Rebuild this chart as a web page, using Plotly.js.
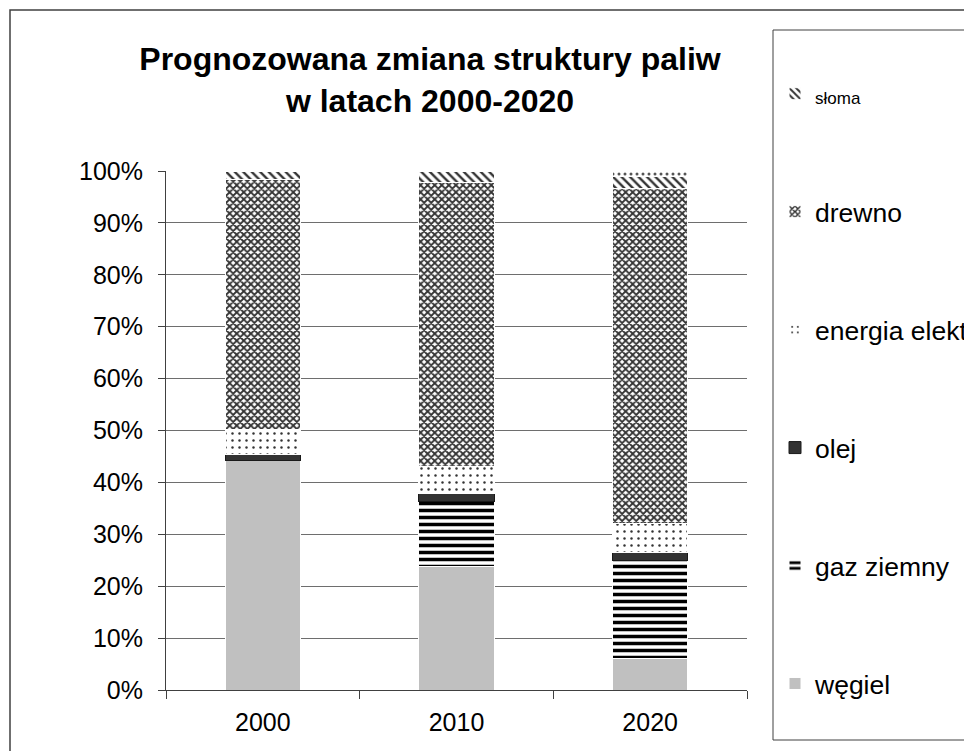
<!DOCTYPE html>
<html>
<head>
<meta charset="utf-8">
<script src="https://cdn.plot.ly/plotly-3.0.1.min.js"></script>
<style>
html,body{margin:0;padding:0;background:#fff;overflow:hidden;}
#chart{width:964px;height:751px;}
</style>
</head>
<body>
<div id="chart"></div>
<script>
// ---- data (percent shares) ----
var years = ['2000', '2010', '2020'];
var wegiel  = [44.3, 23.8, 6.1];
var gaz     = [0.0, 12.6, 18.9];
var olej    = [1.1, 1.4, 1.5];
var energia = [4.7, 5.2, 5.5];
var drewno  = [48.2, 54.7, 64.7];
var sloma   = [1.7, 2.3, 2.2];
var inne    = [0.0, 0.0, 1.1];

var seriesNames = ['węgiel', 'gaz ziemny', 'olej', 'energia elektryczna', 'drewno',
  '<span style="font-size:17px">słoma</span>', 'inne'];

// ---- layout geometry (px) ----
var W = 964, H = 751;
var L = 166, R = 217, T = 171, B = 61;
var pw = W - L - R, ph = H - T - B;
function px2x(p) { return (p - L) / pw; }
function px2y(p) { return (H - B - p) / ph; }

var white = {color: '#ffffff', width: 1};

var traces = [
  {name: seriesNames[0], y: wegiel, legendrank: 6, marker: {color: '#c0c0c0', line: white}},
  {name: seriesNames[1], y: gaz, legendrank: 5, marker: {color: '#ffffff', line: white,
    pattern: {shape: '-', fgcolor: '#000000', bgcolor: '#ffffff', size: 7, solidity: 0.5}}},
  {name: seriesNames[2], y: olej, legendrank: 4, marker: {color: '#333333', line: {color: '#1a1a1a', width: 1}}},
  {name: seriesNames[3], y: energia, legendrank: 3, marker: {color: '#ffffff', line: white,
    pattern: {shape: '.', fgcolor: '#333333', bgcolor: '#ffffff', size: 7, solidity: 0.1}}},
  {name: seriesNames[4], y: drewno, legendrank: 2, marker: {color: '#ffffff', line: white,
    pattern: {shape: 'x', fgcolor: '#333333', bgcolor: '#ffffff', size: 5, solidity: 0.6}}},
  {name: seriesNames[5], y: sloma, legendrank: 1, marker: {color: '#ffffff', line: white,
    pattern: {shape: '\\', fgcolor: '#333333', bgcolor: '#ffffff', size: 6, solidity: 0.4}}},
  {name: seriesNames[6], y: inne, legendrank: 0, showlegend: false, marker: {color: '#ffffff', line: white,
    pattern: {shape: '.', fgcolor: '#555555', bgcolor: '#ffffff', size: 6, solidity: 0.2}}}
].map(function (t, i) {
  t.type = 'bar';
  t.x = years;
  t.legendgroup = 'g' + i;
  t.hoverinfo = 'name+y';
  return t;
});

var fontFam = 'Arial, "Liberation Sans", sans-serif';

var layout = {
  width: W, height: H,
  margin: {l: L, r: R, t: T, b: B, pad: 0, autoexpand: false},
  paper_bgcolor: '#ffffff',
  plot_bgcolor: '#ffffff',
  barmode: 'stack',
  bargap: 0.61,
  font: {family: fontFam, color: '#000000', size: 25},
  title: {
    text: '<b>Prognozowana zmiana struktury paliw<br>w latach 2000-2020</b>',
    font: {family: fontFam, size: 32, color: '#000000'},
    xref: 'container', x: 430 / W, xanchor: 'center',
    yref: 'container', y: 1 - 70 / H, yanchor: 'top'
  },
  xaxis: {
    type: 'category',
    showline: true, linecolor: '#404040', linewidth: 1,
    ticks: 'outside', tickson: 'boundaries', ticklen: 8, tickcolor: '#404040',
    showgrid: false, zeroline: false,
    tickfont: {size: 25, family: fontFam, color: '#000'},
    ticklabelstandoff: 10
  },
  yaxis: {
    range: [0, 100], dtick: 10, ticksuffix: '%',
    showline: true, linecolor: '#404040', linewidth: 1,
    ticks: 'outside', ticklen: 7, tickcolor: '#404040',
    showgrid: true, gridcolor: '#6e6e6e', gridwidth: 1,
    zeroline: false,
    tickfont: {size: 25, family: fontFam, color: '#000'},
    ticklabelstandoff: 10
  },
  legend: {
    x: px2x(775), xanchor: 'left',
    y: px2y(70), yanchor: 'top',
    xref: 'paper', yref: 'paper',
    traceorder: 'grouped',
    tracegroupgap: 80.5,
    bgcolor: 'rgba(0,0,0,0)', borderwidth: 0,
    font: {size: 26.5, family: fontFam, color: '#000'},
    maxheight: 740
  },
  shapes: [
    {type: 'rect', xref: 'paper', yref: 'paper', layer: 'above',
      x0: px2x(10), x1: px2x(1100), y0: px2y(800), y1: px2y(10),
      line: {color: '#404040', width: 1.5}, fillcolor: 'rgba(0,0,0,0)'},
    {type: 'rect', xref: 'paper', yref: 'paper', layer: 'above',
      x0: px2x(773), x1: px2x(1100), y0: px2y(740), y1: px2y(30),
      line: {color: '#404040', width: 1}, fillcolor: 'rgba(0,0,0,0)'}
  ],
  showlegend: true
};

Plotly.newPlot('chart', traces, layout, {displayModeBar: false, staticPlot: true});
</script>
</body>
</html>
